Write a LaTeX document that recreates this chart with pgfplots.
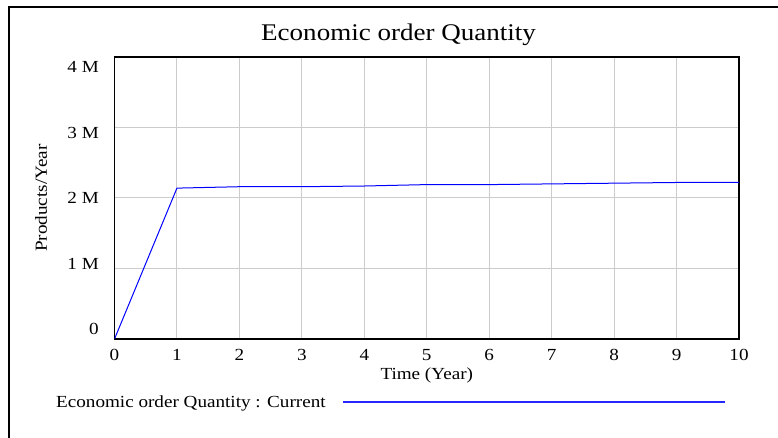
\documentclass[border=0pt]{standalone}
\usepackage{fontspec}
\setmainfont{Liberation Serif}[FakeStretch=1.13]
\usepackage{pgfplots}
\pgfplotsset{compat=1.18}
\begin{document}
\begin{tikzpicture}[x=1bp,y=1bp]
\useasboundingbox (0,0) rectangle (778,438);
\draw[line width=2bp] (9,-10) -- (9,431) -- (800,431);
\begin{axis}[
  at={(114.5bp,99bp)}, anchor=south west, scale only axis,
  width=624.5bp, height=282bp,
  xmin=0, xmax=10, ymin=0, ymax=4,
  xtick={0,1,2,3,4,5,6,7,8,9,10},
  ytick={0,1,2,3,4},
  yticklabels={\raisebox{4bp}{0},\raisebox{-1bp}{1 M},\raisebox{-6bp}{2 M},\raisebox{-11.5bp}{3 M},\raisebox{-16bp}{4 M}},
  /pgf/number format/assume math mode=true,
  grid=major,
  grid style={draw=black!20, line width=1bp},
  axis line style={line width=1.5bp},
  major tick length=0pt,
  tick label style={font=\fontsize{17}{17}\selectfont, inner sep=0pt},
  xticklabel style={anchor=base, yshift=-22bp},
  yticklabel style={anchor=base east, xshift=-15.5bp},
  title={Economic order Quantity},
  title style={at={(0.4548,1)}, anchor=base, yshift=11bp, font=\fontsize{24}{24}\selectfont},
  xlabel={Time (Year)},
  xlabel style={at={(axis description cs:0.5,0)}, anchor=base, yshift=-41bp, font=\fontsize{17}{17}\selectfont},
  ylabel={Products/Year},
  ylabel style={at={(axis description cs:-0.1081,0.5)}, anchor=base, font=\fontsize{17}{17}\selectfont},
  legend plot pos=right,
  legend image code/.code={\path (0,0); \draw[blue!85, line width=1.2bp] (17bp,0) -- (399bp,0);},
  legend style={at={(-0.0937,-0.2234)}, anchor=west, draw=none, fill=none,
    inner sep=0pt, font=\fontsize{17}{17}\selectfont,
    nodes={inner sep=0pt}, column sep=0pt},
]
\addplot[blue, line width=1bp] coordinates {
(0,0) (1,2.14) (2,2.16) (3,2.16) (4,2.17) (5,2.19) (6,2.19) (7,2.20) (8,2.21) (9,2.22) (10,2.22)
};
\addlegendentry{Economic order Quantity : Current}
\end{axis}
\end{tikzpicture}
\end{document}
